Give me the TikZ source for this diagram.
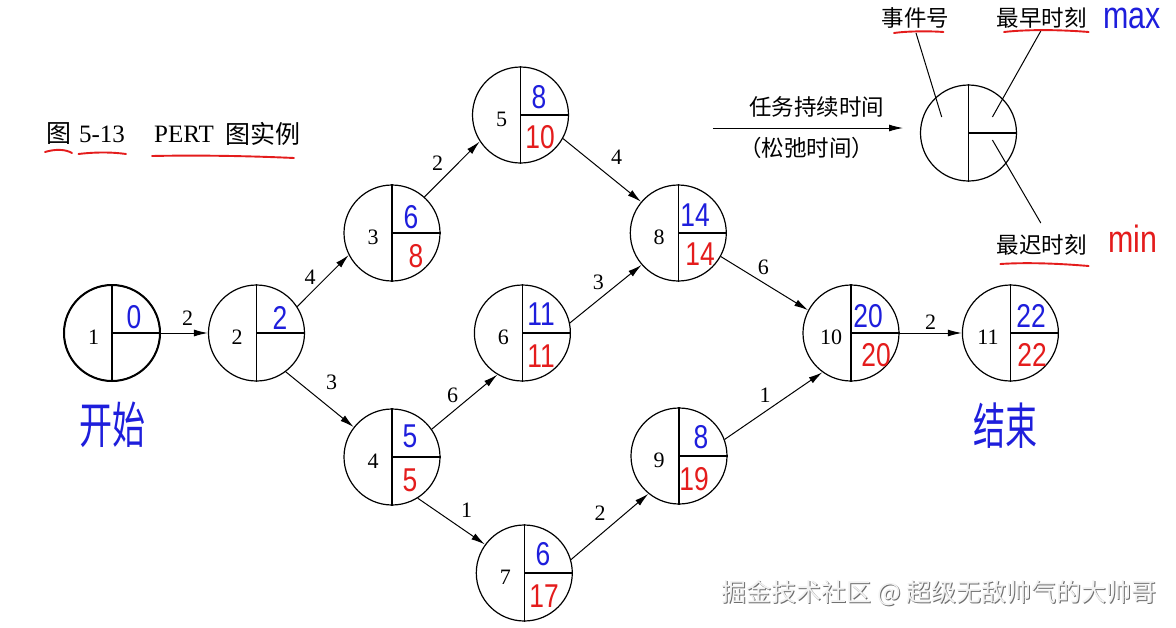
\documentclass[tikz,border=0pt]{standalone}
\usepackage{fontspec}
\setmainfont{Liberation Serif}
\newfontfamily\cjk{Noto Sans CJK SC}
\newfontfamily\hand[FakeStretch=0.8]{Liberation Sans}
\usetikzlibrary{arrows.meta}
\definecolor{penblue}{RGB}{30,30,220}
\definecolor{penred}{RGB}{228,28,28}
\definecolor{wmshadow}{RGB}{110,110,110}
\definecolor{wmface}{RGB}{242,242,242}
\begin{document}
\begin{tikzpicture}[x=1pt,y=-1pt,
  ev/.style={circle,draw,line width=1.2pt,minimum size=96pt,inner sep=0pt},
  div/.style={line width=1.2pt},
  arr/.style={line width=1pt,-{Latex[length=14pt,width=7pt]}},
  lab/.style={font=\fontsize{22}{22}\selectfont,inner sep=0pt},
  num/.style={font=\fontsize{22}{22}\selectfont,inner sep=0pt},
  bl/.style={font=\hand\fontsize{33}{33}\selectfont,text=penblue,inner sep=0pt},
  rd/.style={font=\hand\fontsize{33}{33}\selectfont,text=penred,inner sep=0pt},
  cn/.style={font=\cjk\fontsize{22.5}{22.5}\selectfont,inner sep=0pt},
  ul/.style={draw=penred,line width=1.9pt,line cap=round},
  ptr/.style={line width=1pt},
  wm/.style={font=\cjk\fontsize{25}{25}\selectfont,inner sep=0pt}
]
\useasboundingbox[fill=white] (0,0) rectangle (1176,627);

% ---- title ----
\node[cn,font=\cjk\fontsize{25}{25}\selectfont] (tt1) at (58.7,134) {图};
\node[lab,font=\fontsize{25}{25}\selectfont] (tt2) at (102,134) {5-13};
\node[lab,font=\fontsize{25}{25}\selectfont] (tt3) at (184,134) {PERT};
\node[cn,font=\cjk\fontsize{25}{25}\selectfont] (tt4) at (263,134) {图实例};
\draw[ul] (45,152) .. controls (55,149) and (65,149) .. (72,153);
\draw[ul] (78.5,154) .. controls (95,152) and (112,152) .. (126,154);
\draw[ul] (152,156) .. controls (200,155) and (250,156) .. (294,158);

% ---- events ----
\node[ev] (n1) at (112,333) {};
\node[ev] (n2) at (256.5,333) {};
\node[ev] (n3) at (392,233) {};
\node[ev] (n4) at (392,457) {};
\node[ev] (n5) at (520.5,115) {};
\node[ev] (n6) at (522.4,333) {};
\node[ev] (n7) at (524.3,573) {};
\node[ev] (n8) at (678.3,233) {};
\node[ev] (n9) at (679,456) {};
\node[ev] (n10) at (851,333) {};
\node[ev] (n11) at (1010.4,333) {};
\node[ev] (L) at (968.5,133) {};
\draw[line width=2pt] (n1) circle [radius=48pt];

\foreach \n in {n1,n2,n3,n4,n5,n6,n7,n8,n9,n10,n11,L}{
  \draw[div] (\n.north) -- (\n.south);
  \draw[div] (\n.center) -- (\n.east);
}

% event numbers
\node[num] (k1) at (93.5,337) {1};
\node[num] (k2) at (237,337) {2};
\node[num] (k3) at (373,237) {3};
\node[num] (k4) at (373,461) {4};
\node[num] (k5) at (501.5,119) {5};
\node[num] (k6) at (503.4,337) {6};
\node[num] (k7) at (505.3,577) {7};
\node[num] (k8) at (659,237) {8};
\node[num] (k9) at (659,460) {9};
\node[num] (k10) at (831,337) {10};
\node[num] (k11) at (988,337) {11};

% earliest times (blue)
\node[bl] (b1) at (134,317) {0};
\node[bl] (b2) at (280,318) {2};
\node[bl] (b3) at (411,217) {6};
\node[bl] (b4) at (410,436) {5};
\node[bl] (b5) at (539,97) {8};
\node[bl] (b6) at (541,314) {11};
\node[bl] (b7) at (543,554) {6};
\node[bl] (b8) at (695,215) {14};
\node[bl] (b9) at (701,437) {8};
\node[bl] (b10) at (868,316) {20};
\node[bl] (b11) at (1031,316) {22};

% latest times (red)
\node[rd] (r3) at (416,256) {8};
\node[rd] (r4) at (410,480) {5};
\node[rd] (r5) at (540,137) {10};
\node[rd] (r6) at (541,356) {11};
\node[rd] (r7) at (544,596) {17};
\node[rd] (r8) at (700,254) {14};
\node[rd] (r9) at (694,479) {19};
\node[rd] (r10) at (876,355) {20};
\node[rd] (r11) at (1032,355) {22};

% ---- activities ----
\draw[arr] (n1.east) -- (n2.west);  \node[lab] (a12) at (187.5,318) {2};
\draw[arr] (n2.33.8) -- (n3.207.6);  \node[lab] (a23) at (310,277) {4};
\draw[arr] (n2.307.8) -- (n4.142.9);  \node[lab] (a24) at (331.7,382) {3};
\draw[arr] (n3.48.4) -- (n5.213.9);  \node[lab] (a35) at (437.7,163) {2};
\draw[arr] (n5.331.4) -- (n8.140.7);  \node[lab] (a58) at (616.7,157) {4};
\draw[arr] (n4.35.3) -- (n6.239.1);  \node[lab] (a46) at (452.7,395) {6};
\draw[arr] (n6.12.1) -- (n8.221.2);  \node[lab] (a68) at (598.3,282) {3};
\draw[arr] (n4.302) -- (n7.144.1);  \node[lab] (a47) at (466.7,510) {1};
\draw[arr] (n7.16.7) -- (n9.231.5);  \node[lab] (a79) at (600,513) {2};
\draw[arr] (n8.331.9) -- (n10.152.6); \node[lab] (a810) at (763.3,267) {6};
\draw[arr] (n9.20.8) -- (n10.234); \node[lab] (a910) at (765,395) {1};
\draw[arr] (n10.east) -- (n11.west); \node[lab] (a1011) at (930.6,322) {2};

% ---- legend ----
\coordinate (la) at (712.8,128);
\coordinate (lb) at (903,128);
\draw[arr] (la) -- (lb);
\node[cn] (lt1) at (816.7,107) {任务持续时间};
\node[cn] (lt2) at (806.6,148) {（松弛时间）};

\node[cn] (ea) at (915.6,18) {事件号};
\node[cn] (eb) at (1041.8,18) {最早时刻};
\node[cn] (ec) at (1041.8,245) {最迟时刻};
\node[font=\hand\fontsize{38}{38}\selectfont,text=penblue,inner sep=0pt,anchor=base] (mx) at (1132,28) {max};
\node[font=\hand\fontsize{38}{38}\selectfont,text=penred,inner sep=0pt,anchor=base] (mn) at (1133,252) {min};

\coordinate (pa1) at (916,33);   \coordinate (pa2) at (941.7,117);
\coordinate (pb1) at (1040.8,31); \coordinate (pb2) at (992.4,117);
\coordinate (pc1) at (992.4,140); \coordinate (pc2) at (1040.8,223);
\draw[ptr] (pa1) -- (pa2);
\draw[ptr] (pb1) -- (pb2);
\draw[ptr] (pc1) -- (pc2);

\draw[ul] (894,33) .. controls (908,31) and (930,31) .. (943.5,32);
\draw[ul] (1004,32) .. controls (1030,29) and (1065,30) .. (1088.6,32);
\draw[ul] (1000.4,264) .. controls (1030,262) and (1065,264) .. (1088.6,266);

% ---- handwritten notes ----
\node[font=\cjk\fontsize{33}{33}\selectfont,text=penblue,inner sep=0pt] (st) at (112,425) {\scalebox{1}[1.5]{开始}};
\node[font=\cjk\fontsize{32}{32}\selectfont,text=penblue,inner sep=0pt] (en) at (1005,426) {\scalebox{1}[1.55]{结束}};

% ---- watermark ----
\node[wm,text=wmshadow] (wms) at (940,594) {掘金技术社区 @ 超级无敌帅气的大帅哥};
\node[wm,text=wmface] (wmf) at (939,593) {掘金技术社区 @ 超级无敌帅气的大帅哥};
\end{tikzpicture}
\end{document}
